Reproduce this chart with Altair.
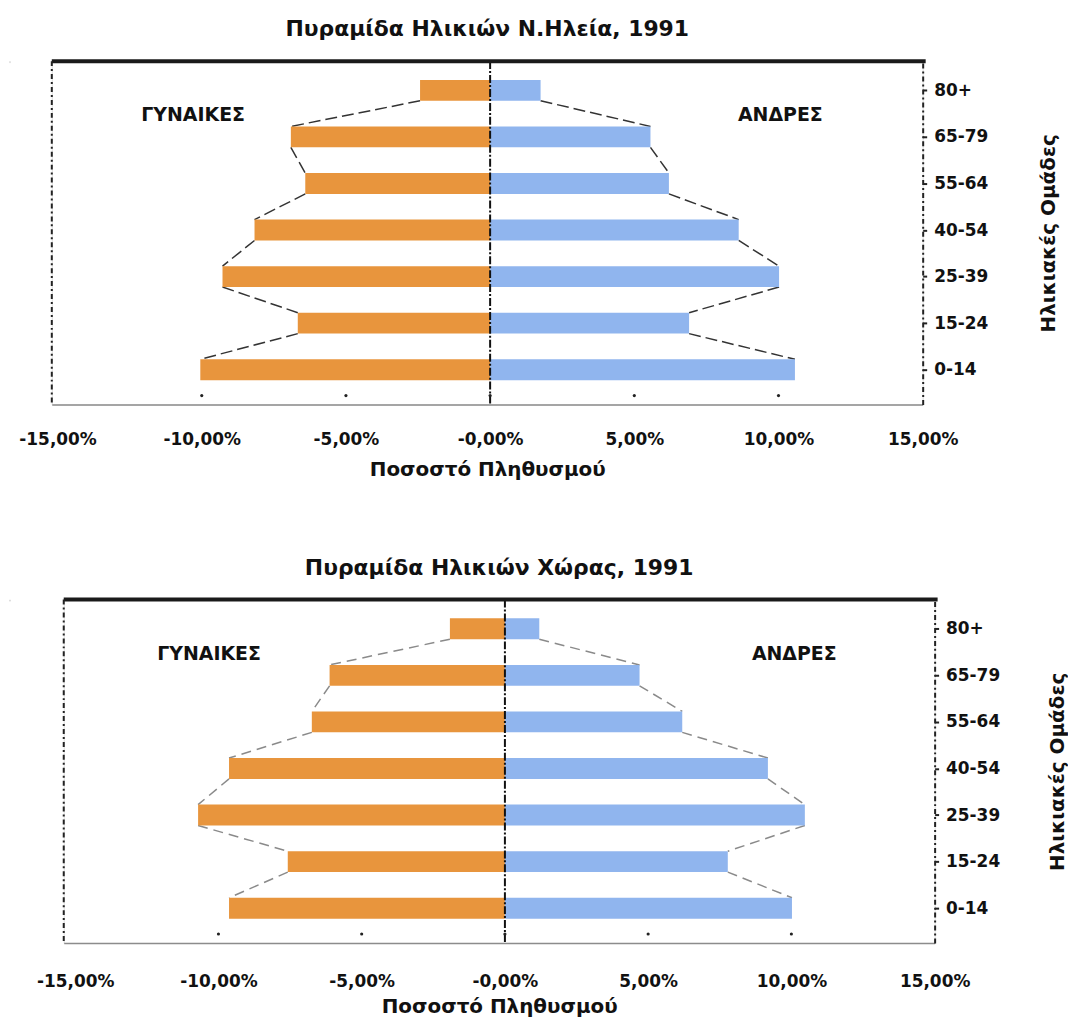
import json
import altair as alt
import pandas as pd

# ---------------- data ----------------
ages = ["0-14", "15-24", "25-39", "40-54", "55-64", "65-79", "80+"]

# Πυραμίδα Ηλικιών Ν.Ηλεία, 1991  (% of population)
ilia_women = [10.05, 6.67, 9.28, 8.17, 6.41, 6.91, 2.43]
ilia_men = [10.57, 6.90, 10.02, 8.62, 6.20, 5.56, 1.75]

# Πυραμίδα Ηλικιών Χώρας, 1991
country_women = [9.63, 7.58, 10.71, 9.63, 6.74, 6.12, 1.92]
country_men = [10.02, 7.78, 10.47, 9.18, 6.19, 4.70, 1.20]

x_ticks = [-15, -10, -5, 0, 5, 10, 15]
x_tick_labels = ["-15,00%", "-10,00%", "-5,00%", "-0,00%", "5,00%", "10,00%", "15,00%"]

women_label = "ΓΥΝΑΙΚΕΣ"
men_label = "ΑΝΔΡΕΣ"
x_title = "Ποσοστό Πληθυσμού"
y_title = "Ηλικιακές Ομάδες"

# ---------------- styling ----------------
FONT = "DejaVu Sans"
ORANGE = "#E8953D"
BLUE = "#90B5EE"
PLOT_W = 875
PLOT_H = 345
Y_DOMAIN = [-0.64, 6.52]
BAR_PX = 21
DOT_DASH = [5, 3, 2, 3]
LEFT_EXTENT = 40


def pyramid(title, women, men, x_domain, line_color, line_dash, w_pos, m_pos,
            label_pad, xtitle_pad, ytitle_pad):
    n = len(ages)
    bars = pd.DataFrame({
        "idx": list(range(n)) * 2,
        "age": ages * 2,
        "sex": [women_label] * n + [men_label] * n,
        "value": [-v for v in women] + list(men),
    })
    rows = []
    for vals in ([-v for v in women], list(men)):
        for i in range(n - 1, 0, -1):
            rows.append({"x": vals[i], "y": i, "x2": vals[i - 1], "y2": i - 1})
    conn = pd.DataFrame(rows)
    one = pd.DataFrame({"a": [0]})
    dots = pd.DataFrame({"t": x_ticks[1:-1]})

    x_scale = alt.Scale(domain=x_domain, nice=False, zero=False)
    y_scale = alt.Scale(domain=Y_DOMAIN, nice=False, zero=False)

    x_axis = alt.Axis(
        values=x_ticks,
        labelExpr=f"{json.dumps(x_tick_labels, ensure_ascii=False)}[indexof({json.dumps(x_ticks)}, datum.value)]",
        labelFont=FONT, labelFontSize=17, labelFontWeight="bold", labelColor="#111",
        labelPadding=label_pad, labelFlush=False, labelOverlap=False,
        ticks=False, grid=False,
        domainColor="#8c8c8c", domainWidth=1.5,
        title=x_title, titleFont=FONT, titleFontSize=20, titleFontWeight="bold",
        titleColor="#111", titlePadding=xtitle_pad,
    )
    y_axis = alt.Axis(
        orient="right",
        values=list(range(n)),
        labelExpr=f"{json.dumps(ages)}[datum.value]",
        labelFont=FONT, labelFontSize=17, labelFontWeight="bold", labelColor="#111",
        labelPadding=7, ticks=True, tickSize=4, tickColor="#222", tickWidth=2,
        grid=False, domainColor="#222", domainWidth=2, domainDash=DOT_DASH,
        title=y_title, titleFont=FONT, titleFontSize=20, titleFontWeight="bold",
        titleColor="#111", titleAngle=270, titlePadding=ytitle_pad,
    )

    bar_layer = alt.Chart(bars).mark_bar(orient="horizontal", size=BAR_PX).encode(
        x=alt.X("value:Q", scale=x_scale, axis=x_axis),
        x2=alt.datum(0),
        y=alt.Y("idx:Q", scale=y_scale, axis=y_axis),
        color=alt.Color("sex:N", scale=alt.Scale(domain=[women_label, men_label], range=[ORANGE, BLUE]), legend=None),
    )
    conn_layer = alt.Chart(conn).mark_rule(
        yOffset=BAR_PX / 2, y2Offset=-BAR_PX / 2, color=line_color, strokeWidth=1.5, strokeDash=line_dash
    ).encode(x="x:Q", x2="x2:Q", y="y:Q", y2="y2:Q")
    zero_line = alt.Chart(one).mark_rule(color="#111", strokeWidth=2, strokeDash=[8, 2, 2, 2]).encode(
        x=alt.datum(0), y=alt.value(0), y2=alt.value(PLOT_H)
    )
    top_line = alt.Chart(one).mark_rule(color="#1a1a1a", strokeWidth=4).encode(
        x=alt.value(0), x2=alt.value(PLOT_W + 3), y=alt.value(0)
    )
    left_line = alt.Chart(one).mark_rule(color="#222", strokeWidth=2, strokeDash=DOT_DASH).encode(
        x=alt.value(0), y=alt.value(0), y2=alt.value(PLOT_H)
    )
    # invisible item that fixes how far the chart's bounds reach to the left
    left_pad = alt.Chart(one).mark_rule(opacity=0, strokeWidth=1).encode(
        x=alt.value(-LEFT_EXTENT), x2=alt.value(-LEFT_EXTENT + 1), y=alt.value(PLOT_H)
    )
    dot_layer = alt.Chart(dots).mark_point(filled=True, size=10, color="#222", opacity=1).encode(
        x="t:Q", y=alt.value(PLOT_H - 9)
    )
    w_text = alt.Chart(one).mark_text(font=FONT, fontSize=19, fontWeight="bold", color="#111").encode(
        x=alt.value(w_pos[0]), y=alt.value(w_pos[1]), text=alt.value(women_label)
    )
    m_text = alt.Chart(one).mark_text(font=FONT, fontSize=19, fontWeight="bold", color="#111").encode(
        x=alt.value(m_pos[0]), y=alt.value(m_pos[1]), text=alt.value(men_label)
    )
    return alt.layer(
        conn_layer, bar_layer, zero_line, dot_layer, top_line, left_line, left_pad, w_text, m_text
    ).properties(
        width=PLOT_W,
        height=PLOT_H,
        title=alt.TitleParams(
            title, font=FONT, fontSize=22, fontWeight="bold", color="#111",
            anchor="middle", frame="group", offset=18,
        ),
    )


def spacer():
    return alt.Chart(pd.DataFrame({"a": [0]})).mark_rule(opacity=0, strokeWidth=1).encode(
        x=alt.value(0), x2=alt.value(1), y=alt.value(0)
    ).properties(width=1, height=1)


top = pyramid("Πυραμίδα Ηλικιών Ν.Ηλεία, 1991", ilia_women, ilia_men,
              [-15.2, 15], "#333", [12, 5], (142, 54), (732, 54),
              label_pad=27, xtitle_pad=12, ytitle_pad=71)
bottom = pyramid("Πυραμίδα Ηλικιών Χώρας, 1991", country_women, country_men,
                 [-15.4, 15], "#8a8a8a", [10, 6], (146, 55), (734, 55),
                 label_pad=31, xtitle_pad=7, ytitle_pad=68)

chart = alt.vconcat(
    alt.hconcat(spacer(), top, spacing=0),
    alt.hconcat(spacer(), bottom, spacing=12),
    spacing=76,
).properties(
    padding={"left": 0, "top": 7, "right": 0, "bottom": 0}
).configure_view(stroke=None).configure(background="white")

chart.save("out.html", embed_options={"renderer": "svg", "actions": False})
